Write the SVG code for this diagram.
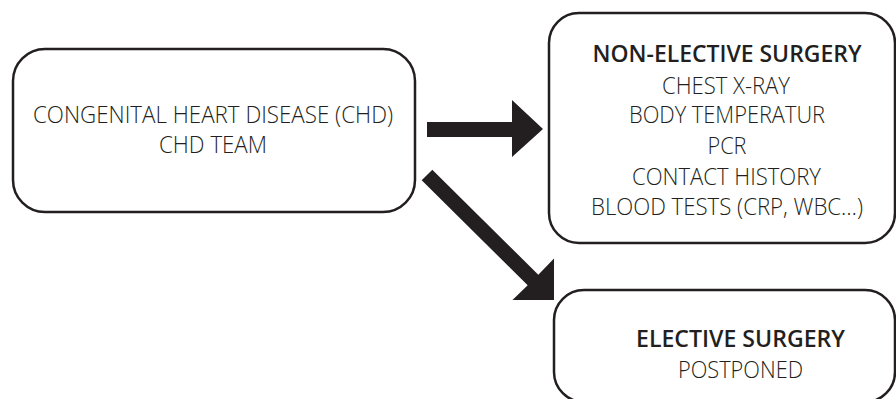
<svg xmlns="http://www.w3.org/2000/svg" width="896" height="399" viewBox="0 0 896 399">
<style>
.box{fill:#fff;stroke:#231f20;stroke-width:2.5}
.t{font-family:"Open Sans","Noto Sans","Liberation Sans",sans-serif;font-size:23.5px;font-weight:300;fill:#231f20;text-anchor:middle}
.b{font-weight:600}
.arr{fill:#231f20}
</style>
<rect width="896" height="399" fill="#fff"/>
<g id="connectors">
<polygon class="arr" points="427,122 512,122 512,100 543,129 512,157 512,137 427,137"/>
<polygon class="arr" points="432.3,169.7 538.3,274.7 554,258.5 554,300 512.5,300 527.7,285.3 421.7,180.3"/>
</g>
<g id="node-chd">
<rect class="box" x="13" y="49" width="402" height="163" rx="32"/>
<text class="t" x="213" y="123" textLength="360" lengthAdjust="spacingAndGlyphs">CONGENITAL HEART DISEASE (CHD)</text>
<text class="t" x="213" y="153" textLength="108" lengthAdjust="spacingAndGlyphs">CHD TEAM</text>
</g>
<g id="node-non-elective">
<rect class="box" x="549" y="13" width="346" height="230" rx="30"/>
<text class="t b" x="727" y="62" textLength="269" lengthAdjust="spacingAndGlyphs">NON-ELECTIVE SURGERY</text>
<text class="t" x="726" y="94" textLength="128" lengthAdjust="spacingAndGlyphs">CHEST X-RAY</text>
<text class="t" x="727" y="123" textLength="196" lengthAdjust="spacingAndGlyphs">BODY TEMPERATUR</text>
<text class="t" x="727" y="154" textLength="39" lengthAdjust="spacingAndGlyphs">PCR</text>
<text class="t" x="726.5" y="185" textLength="189" lengthAdjust="spacingAndGlyphs">CONTACT HISTORY</text>
<text class="t" x="727" y="215" textLength="272" lengthAdjust="spacingAndGlyphs">BLOOD TESTS (CRP, WBC…)</text>
</g>
<g id="node-elective">
<rect class="box" x="554" y="290" width="341" height="112" rx="30"/>
<text class="t b" x="740.5" y="347" textLength="209" lengthAdjust="spacingAndGlyphs">ELECTIVE SURGERY</text>
<text class="t" x="740.5" y="378" textLength="125" lengthAdjust="spacingAndGlyphs">POSTPONED</text>
</g>
</svg>
